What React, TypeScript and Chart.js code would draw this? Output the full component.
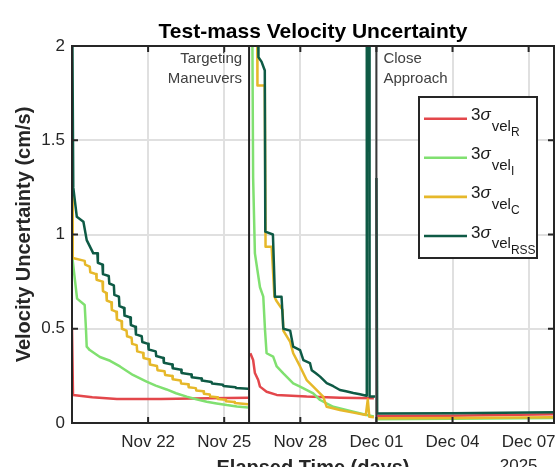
import { useEffect, useRef } from "react";
import { Chart, registerables } from "chart.js";
Chart.register(...registerables);

const FONT = "'Liberation Sans', Arial, Helvetica, sans-serif";

// Elapsed time in days since Nov 19 00:00 (2025)
const xTickDays = [3, 6, 9, 12, 15, 18];
const xTickLabels = ["Nov 22", "Nov 25", "Nov 28", "Dec 01", "Dec 04", "Dec 07"];
const yTickValues = [0, 0.5, 1, 1.5, 2];
const yTickLabels = ["0", "0.5", "1", "1.5", "2"];
const yearLabel = "2025";

const eventDays = [6.98, 12.0];
const eventTextLeft = ["Targeting", "Maneuvers"];
const eventTextRight = ["Close", "Approach"];

// null value = break between arcs
const rTime = [0, 0.04, 0.8, 1.77, 3.5, 5.4, 6.94, 6.98,
  7.03, 7.14, 7.21, 7.34, 7.41, 7.67, 8.07, 9.25, 10.56, 11.9, 12.0,
  12.03, 14.9, 19];
const rVal = [0.5, 0.149, 0.136, 0.127, 0.127, 0.131, 0.134, null,
  0.37, 0.334, 0.265, 0.228, 0.193, 0.166, 0.149, 0.14, 0.134, 0.131, null,
  0.037, 0.039, 0.046];

const iTime = [0, 0.02, 0.2, 0.5, 0.55, 0.58, 0.7, 1.1, 1.5, 1.89, 2.4, 2.94, 3.3, 3.73, 4.1, 4.52, 4.9, 5.31, 5.7, 6.1, 6.5, 6.94, 6.98,
  7.1, 7.14, 7.21, 7.41, 7.54, 7.61, 7.67, 7.93, 8.07, 8.33, 8.72, 8.99, 9.51, 9.78, 10.3, 11.09, 11.62, 11.9, 12.0,
  12.03, 15, 19];
const iVal = [1.6, 0.87, 0.66, 0.626, 0.5, 0.405, 0.387, 0.35, 0.33, 0.3, 0.255, 0.219, 0.198, 0.178, 0.158, 0.14, 0.126, 0.113, 0.104, 0.095, 0.088, 0.082, null,
  2.3, 1.3, 0.9, 0.72, 0.67, 0.49, 0.37, 0.352, 0.3, 0.263, 0.21, 0.193, 0.157, 0.122, 0.086, 0.06, 0.042, 0.035, null,
  0.02, 0.022, 0.027];

const cTime = [0, 0.03, 0.5, 0.52, 0.7, 0.72, 0.95, 0.97, 1.2, 1.22, 1.35, 1.37, 1.55, 1.57, 1.75, 1.77, 1.95, 1.97,
  2.15, 2.17, 2.35, 2.37, 2.55, 2.57, 2.8, 2.82, 3.05, 3.07, 3.35, 3.37, 3.65, 3.67, 3.95, 3.97, 4.28, 4.3,
  4.58, 4.6, 4.88, 4.9, 5.18, 5.2, 5.43, 5.45, 5.73, 5.75, 6.05, 6.07, 6.4, 6.42, 6.94, 6.98,
  7.02, 7.3, 7.31, 7.6, 7.63, 7.87, 7.98, 8.05, 8.3, 8.33, 8.6, 8.72, 8.99, 9.25, 9.51, 9.9, 10.04, 10.56, 11.09, 11.58, 11.66, 11.72, 11.9, 12.0,
  12.03, 15, 19];
const cVal = [1.23, 0.875, 0.86, 0.84, 0.83, 0.8, 0.79, 0.76, 0.75, 0.7, 0.69, 0.65, 0.64, 0.6, 0.59, 0.55, 0.54, 0.5,
  0.49, 0.46, 0.452, 0.42, 0.413, 0.38, 0.372, 0.345, 0.337, 0.31, 0.302, 0.28, 0.274, 0.255, 0.249, 0.232, 0.226, 0.21,
  0.205, 0.19, 0.185, 0.172, 0.168, 0.155, 0.151, 0.14, 0.136, 0.127, 0.123, 0.116, 0.112, 0.106, 0.1, null,
  2.5, 2.1, 1.79, 1.79, 0.935, 0.935, 0.67, 0.65, 0.6, 0.49, 0.43, 0.37, 0.3, 0.228, 0.193, 0.14, 0.086, 0.069, 0.055, 0.042, 0.125, 0.033, 0.03, null,
  0.025, 0.027, 0.03];

const rssTime = [0, 0.05, 0.19, 0.45, 0.58, 0.84, 1.0, 1.02, 1.2, 1.22, 1.45, 1.47, 1.65, 1.67, 1.85, 1.87, 2.05, 2.07,
  2.3, 2.32, 2.5, 2.52, 2.75, 2.77, 3.0, 3.02, 3.3, 3.32, 3.6, 3.62, 3.95, 3.97, 4.3, 4.32, 4.7, 4.72, 5.1, 5.12,
  5.5, 5.52, 5.95, 5.97, 6.45, 6.47, 6.94, 6.98,
  7.02, 7.34, 7.35, 7.47, 7.6, 7.62, 7.92, 8.0, 8.26, 8.33, 8.6, 8.72, 8.99, 9.12, 9.38, 9.45, 9.6, 9.78, 9.9, 10.04, 10.3, 10.56, 10.8, 11.09, 11.35, 11.6, 11.62, 11.71, 11.73, 11.95, 12.0,
  12.0, 12.03, 15, 19];
const rssVal = [2.4, 1.25, 1.094, 1.068, 0.97, 0.9, 0.9, 0.85, 0.84, 0.79, 0.78, 0.74, 0.73, 0.68, 0.67, 0.62, 0.61, 0.57,
  0.56, 0.52, 0.51, 0.47, 0.46, 0.43, 0.42, 0.39, 0.38, 0.355, 0.345, 0.32, 0.31, 0.29, 0.282, 0.265, 0.257, 0.243, 0.236, 0.225,
  0.218, 0.209, 0.203, 0.196, 0.19, 0.186, 0.182, null,
  2.4, 2.05, 1.94, 1.917, 1.87, 1.015, 1.0, 0.67, 0.67, 0.5, 0.49, 0.405, 0.387, 0.334, 0.318, 0.28, 0.265, 0.246, 0.23, 0.212, 0.195, 0.175, 0.168, 0.159, 0.152, 0.145, 2.6, 2.6, 0.14, 0.14, null,
  1.3, 0.051, 0.052, 0.057];

const seriesNames = ["R", "I", "C", "RSS"];
const seriesColors = ["#e3474b", "#80e070", "#e6b82a", "#0e5a45"];

function toPoints(t: number[], v: (number | null)[]) {
  return t.map((x, i) => ({ x, y: v[i] }));
}

const overlayPlugin = {
  id: "overlay",
  afterDraw(chart: any) {
    const { ctx, chartArea, scales } = chart;
    const { left, right, top, bottom } = chartArea;
    const xs = scales.x;
    const ys = scales.y;
    ctx.save();

    // event lines
    eventDays.forEach((d, i) => {
      const px = xs.getPixelForValue(d);
      ctx.strokeStyle = i === 0 ? "#222222" : "#3a3a3a";
      ctx.lineWidth = 2;
      ctx.beginPath();
      ctx.moveTo(px, top);
      ctx.lineTo(px, bottom);
      ctx.stroke();
    });

    // axes box
    ctx.strokeStyle = "#262626";
    ctx.lineWidth = 2;
    ctx.strokeRect(left, top, right - left, bottom - top);

    // inward ticks
    ctx.beginPath();
    xTickDays.forEach((d) => {
      const px = xs.getPixelForValue(d);
      ctx.moveTo(px, bottom);
      ctx.lineTo(px, bottom - 6);
      ctx.moveTo(px, top);
      ctx.lineTo(px, top + 6);
    });
    yTickValues.slice(1, -1).forEach((v) => {
      const py = ys.getPixelForValue(v);
      ctx.moveTo(left, py);
      ctx.lineTo(left + 6, py);
      ctx.moveTo(right, py);
      ctx.lineTo(right - 6, py);
    });
    ctx.stroke();

    // annotations
    ctx.fillStyle = "#404040";
    ctx.font = `15px ${FONT}`;
    ctx.textBaseline = "alphabetic";
    const e1 = xs.getPixelForValue(eventDays[0]);
    const e2 = xs.getPixelForValue(eventDays[1]);
    ctx.textAlign = "right";
    eventTextLeft.forEach((s, i) => ctx.fillText(s, e1 - 7, top + 17 + i * 19.5));
    ctx.textAlign = "left";
    eventTextRight.forEach((s, i) => ctx.fillText(s, e2 + 7, top + 17 + i * 19.5));

    // legend
    const lx = right - 135;
    const ly = top + 51;
    const lw = 118;
    const lh = 161;
    ctx.fillStyle = "#ffffff";
    ctx.fillRect(lx, ly, lw, lh);
    ctx.strokeStyle = "#262626";
    ctx.lineWidth = 2;
    ctx.strokeRect(lx, ly, lw, lh);
    seriesNames.forEach((name, i) => {
      const y = ly + 21.7 + i * 39.1;
      ctx.strokeStyle = seriesColors[i];
      ctx.lineWidth = 2.6;
      ctx.beginPath();
      ctx.moveTo(lx + 5, y);
      ctx.lineTo(lx + 48, y);
      ctx.stroke();
      ctx.fillStyle = "#1a1a1a";
      ctx.textAlign = "left";
      let x = lx + 52;
      ctx.font = `17px ${FONT}`;
      ctx.fillText("3", x, y + 1.5);
      x += ctx.measureText("3").width;
      ctx.font = `italic 17px ${FONT}`;
      ctx.fillText("σ", x, y + 1.5);
      x += ctx.measureText("σ").width + 1;
      ctx.font = `15px ${FONT}`;
      ctx.fillText("vel", x, y + 12);
      x += ctx.measureText("vel").width;
      ctx.font = `12px ${FONT}`;
      ctx.fillText(name, x, y + 17.5);
    });

    // titles
    ctx.fillStyle = "#000000";
    ctx.font = `bold 21px ${FONT}`;
    ctx.textAlign = "center";
    ctx.fillText("Test-mass Velocity Uncertainty", (left + right) / 2, top - 8);
    ctx.font = `bold 20px ${FONT}`;
    ctx.fillStyle = "#262626";
    ctx.fillText("Elapsed Time (days)", (left + right) / 2, bottom + 51);
    ctx.save();
    ctx.translate(24, (top + bottom) / 2);
    ctx.rotate(-Math.PI / 2);
    ctx.textBaseline = "middle";
    ctx.fillText("Velocity Uncertainty (cm/s)", 0, 0);
    ctx.restore();
    ctx.font = `17px ${FONT}`;
    ctx.fillStyle = "#262626";
    ctx.fillText(yearLabel, xs.getPixelForValue(xTickDays[xTickDays.length - 1]) - 10, bottom + 48);

    ctx.restore();
  },
};

export default function App() {
  const ref = useRef<HTMLCanvasElement>(null);
  useEffect(() => {
    const datasets = [
      { t: rTime, v: rVal },
      { t: iTime, v: iVal },
      { t: cTime, v: cVal },
      { t: rssTime, v: rssVal },
    ].map((s, i) => ({
      label: seriesNames[i],
      data: toPoints(s.t, s.v),
      borderColor: seriesColors[i],
      backgroundColor: seriesColors[i],
      borderWidth: 2.5,
      borderJoinStyle: "round",
      pointRadius: 0,
      tension: 0,
      spanGaps: false,
      order: 3 - i,
    }));
    const chart = new Chart(ref.current!, {
      type: "line",
      data: { datasets } as any,
      options: {
        animation: false,
        responsive: false,
        maintainAspectRatio: false,
        layout: { padding: { left: 0, right: 6, top: 46, bottom: 0 } },
        plugins: { legend: { display: false }, title: { display: false }, tooltip: { enabled: false } },
        scales: {
          x: {
            type: "linear",
            min: 0,
            max: 19,
            afterBuildTicks: (scale: any) => {
              scale.ticks = xTickDays.map((value) => ({ value }));
            },
            afterFit: (scale: any) => {
              scale.height = 44;
              scale.paddingLeft = 0;
              scale.paddingRight = 0;
            },
            ticks: {
              autoSkip: false,
              maxRotation: 0,
              padding: 9,
              color: "#262626",
              font: { family: FONT, size: 17 },
              callback: (v: any) => {
                const k = xTickDays.indexOf(Number(v));
                return k >= 0 ? xTickLabels[k] : "";
              },
            },
            grid: { color: "#e0e0e0", lineWidth: 2, drawTicks: false },
            border: { display: false },
          },
          y: {
            type: "linear",
            min: 0,
            max: 2,
            afterBuildTicks: (scale: any) => {
              scale.ticks = yTickValues.map((value) => ({ value }));
            },
            afterFit: (scale: any) => {
              scale.width = 72;
              scale.paddingTop = 0;
              scale.paddingBottom = 0;
            },
            ticks: {
              padding: 7,
              color: "#262626",
              font: { family: FONT, size: 17 },
              callback: (v: any) => {
                const k = yTickValues.indexOf(Number(v));
                return k >= 0 ? yTickLabels[k] : "";
              },
            },
            grid: { color: "#e0e0e0", lineWidth: 2, drawTicks: false },
            border: { display: false },
          },
        },
      },
      plugins: [overlayPlugin],
    } as any);
    return () => chart.destroy();
  }, []);
  return (
    <div style={{ position: "fixed", left: 0, top: 0, width: 560, height: 467, background: "#fff" }}>
      <canvas ref={ref} width={560} height={467} style={{ display: "block", width: 560, height: 467 }} />
    </div>
  );
}
